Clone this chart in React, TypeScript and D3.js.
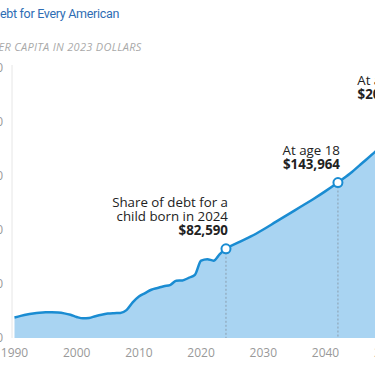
import React, { useRef, useEffect } from "react";
import * as d3 from "d3";

const years = [
  1990, 1991, 1992, 1993, 1994, 1995, 1996, 1997, 1998, 1999,
  2000, 2001, 2002, 2003, 2004, 2005, 2006, 2007, 2008, 2009,
  2010, 2011, 2012, 2013, 2014, 2015, 2016, 2017, 2018, 2019,
  2020, 2021, 2022, 2023, 2024, 2026, 2028, 2030, 2032, 2034,
  2036, 2038, 2040, 2042, 2044, 2046, 2048, 2050, 2052, 2054,
];
const debtPerCapita = [
  19000, 20500, 21800, 22700, 23400, 23800, 23900, 23600, 22800, 21500,
  19500, 18200, 18600, 20200, 21600, 22600, 23000, 23200, 25800, 33000,
  38500, 41600, 44700, 46300, 48000, 49000, 53000, 53300, 55700, 58500,
  71600, 73000, 71600, 77700, 82590, 88500, 94000, 100500, 107500, 114500,
  121500, 128500, 136000, 143964, 152500, 162500, 172500, 183500, 195000, 208000,
];

const yearTicks = [1990, 2000, 2010, 2020, 2030, 2040, 2050];
const valueTicks = [0, 50000, 100000, 150000, 200000, 250000];

const markerYears = [2024, 2042, 2054];
const markerLabels = [
  ["Share of debt for a", "child born in 2024"],
  ["At age 18"],
  ["At age 30"],
];
const markerValues = ["$82,590", "$143,964", "$208,214"];

const W = 375;
const H = 366;
const FONT = "'Open Sans', sans-serif";

const App = () => {
  const canvas = useRef<SVGSVGElement>(null);

  useEffect(() => {
    const svg = d3.select(canvas.current);
    svg.selectAll("*").remove();

    const x = d3.scaleLinear().domain([1990, 2050]).range([14.5, 387.7]);
    const y = d3.scaleLinear().domain([0, 250000]).range([338, 68]);

    const data = years.map((yr, i) => [yr, debtPerCapita[i]] as [number, number]);

    // title
    svg.append("text")
      .attr("x", -8).attr("y", 18)
      .style("font-family", "Roboto, sans-serif").style("font-size", "12.5px")
      .style("letter-spacing", "-0.3px")
      .style("fill", "#2e6db4")
      .text("Debt for Every American");
    svg.append("text")
      .attr("x", -8).attr("y", 51)
      .style("font-family", FONT).style("font-size", "11px")
      .style("font-style", "italic").style("letter-spacing", "0.3px")
      .style("fill", "#a9a9a9")
      .text("PER CAPITA IN 2023 DOLLARS");

    // axis line
    svg.append("line")
      .attr("x1", 12).attr("x2", 12)
      .attr("y1", y(250000) - 3).attr("y2", y(0))
      .style("stroke", "#e6e6e6").style("stroke-width", 1);

    svg.selectAll(".ytick")
      .data(valueTicks)
      .enter().append("text")
      .attr("x", 3).attr("y", (d) => y(d) + 4)
      .attr("text-anchor", "end")
      .style("font-family", FONT).style("font-size", "12px")
      .style("fill", "#999")
      .text((d) => d3.format("$,")(d));

    svg.selectAll(".xtick")
      .data(yearTicks)
      .enter().append("text")
      .attr("x", (d) => x(d)).attr("y", 357)
      .attr("text-anchor", "middle")
      .style("font-family", FONT).style("font-size", "12px")
      .style("fill", "#999")
      .text((d) => String(d));

    const area = d3.area<[number, number]>()
      .x((d) => x(d[0])).y0(y(0)).y1((d) => y(d[1]))
      .curve(d3.curveMonotoneX);
    const line = d3.line<[number, number]>()
      .x((d) => x(d[0])).y((d) => y(d[1]))
      .curve(d3.curveMonotoneX);

    svg.append("path").datum(data).attr("d", area).style("fill", "#a9d4f2");

    // dotted drop lines
    markerYears.forEach((yr) => {
      const v = debtPerCapita[years.indexOf(yr)];
      svg.append("line")
        .attr("x1", x(yr)).attr("x2", x(yr))
        .attr("y1", y(v)).attr("y2", y(0))
        .style("stroke", "#8a9eae").style("stroke-width", 1)
        .style("stroke-dasharray", "2,2");
    });

    svg.append("path").datum(data).attr("d", line)
      .style("fill", "none").style("stroke", "#1a8cd2").style("stroke-width", 2.5);

    markerYears.forEach((yr, i) => {
      const v = debtPerCapita[years.indexOf(yr)];
      const cx = x(yr);
      const cy = y(v);
      svg.append("circle")
        .attr("cx", cx).attr("cy", cy).attr("r", 4.5)
        .style("fill", "#fff").style("stroke", "#1a8cd2").style("stroke-width", 2);
      const base = cy - 14;
      const lines = markerLabels[i];
      const t = svg.append("text")
        .attr("text-anchor", "end")
        .style("font-family", FONT).style("font-size", "13.3px")
        .style("fill", "#222");
      lines.forEach((l, j) => {
        t.append("tspan")
          .attr("x", cx + 2)
          .attr("y", base - 14 * (lines.length - j))
          .text(l);
      });
      t.append("tspan")
        .attr("x", cx + 2).attr("y", base)
        .style("font-weight", "bold")
        .text(markerValues[i]);
    });
  });

  return (
    <div style={{ position: "fixed", left: 0, top: 0 }}>
      <svg ref={canvas} width={W} height={H} style={{ display: "block", background: "#fff" }}></svg>
    </div>
  );
};

export default App;
